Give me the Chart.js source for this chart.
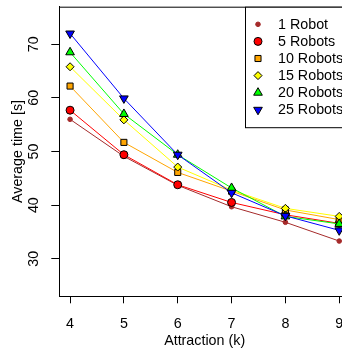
<!DOCTYPE html>
<html>
<head>
<meta charset="utf-8">
<script src="https://cdn.jsdelivr.net/npm/chart.js@4.4.1/dist/chart.umd.min.js"></script>
<style>
  html, body { margin: 0; padding: 0; background: #fff; overflow: hidden; }
  canvas { display: block; }
</style>
</head>
<body>
<canvas id="timeChart" width="356" height="351"></canvas>
<script>
// attraction values (x) and average completion times per swarm size
const kValues = [4, 5, 6, 7, 8, 9];
const robots1 = [56.0, 49.1, 43.7, 39.7, 36.8, 33.3];
const robots5 = [57.7, 49.4, 43.8, 40.5, 38.2, 36.6];
const robots10 = [62.2, 51.7, 46.1, 42.6, 39.1, 37.3];
const robots15 = [65.8, 55.9, 47.1, 42.8, 39.4, 37.9];
const robots20 = [68.5, 57.0, 49.4, 43.2, 37.9, 36.5];
const robots25 = [72.0, 59.9, 49.4, 42.3, 38.0, 35.3];
const xTicks = [4, 5, 6, 7, 8, 9];
const yTicks = [30, 40, 50, 60, 70];

const FONT = "'Liberation Sans', Arial, Helvetica, sans-serif";
const FSIZE = 14.3;

function series(label, values, color, style, radius, rotation, border) {
    return {
        label: label,
        data: kValues.map((k, i) => ({ x: k, y: values[i] })),
        borderColor: color,
        borderWidth: 1,
        pointStyle: style,
        pointRadius: radius,
        pointRotation: rotation,
        pointBackgroundColor: color,
        pointBorderColor: border,
        pointBorderWidth: 1,
        tension: 0
    };
}

const datasets = [
    series('1 Robot', robots1, '#A52A2A', 'circle', 2.3, 0, '#A52A2A'),
    series('5 Robots', robots5, '#FF0000', 'circle', 4, 0, '#000'),
    series('10 Robots', robots10, '#FFA500', 'rect', 4.3, 0, '#000'),
    series('15 Robots', robots15, '#FFFF00', 'rectRot', 4, 0, '#000'),
    series('20 Robots', robots20, '#00FF00', 'triangle', 5, 0, '#000'),
    series('25 Robots', robots25, '#0000FF', 'triangle', 5, 180, '#000')
];
// later series are painted on top
datasets.forEach((d, i) => { d.order = datasets.length - i; });

// plot frame (top/right) + rotated y tick labels + legend box
const framePlugin = {
    id: 'frame',
    afterDraw(chart) {
        const ctx = chart.ctx;
        const area = chart.chartArea;
        const yScale = chart.scales.y;
        ctx.save();
        ctx.strokeStyle = '#000';
        ctx.lineWidth = 1;
        ctx.beginPath();
        ctx.moveTo(area.left, area.top + 0.5);
        ctx.lineTo(area.right, area.top + 0.5);
        ctx.lineTo(area.right - 0.5, area.bottom);
        ctx.stroke();

        // y tick labels, vertical like base R
        ctx.fillStyle = '#000';
        ctx.font = FSIZE + 'px ' + FONT;
        ctx.textAlign = 'center';
        ctx.textBaseline = 'middle';
        yTicks.forEach(v => {
            ctx.save();
            ctx.translate(34.5, yScale.getPixelForValue(v));
            ctx.rotate(-Math.PI / 2);
            ctx.fillText(String(v), 0, 0);
            ctx.restore();
        });

        // legend
        const lx = 245.5, ly = area.top + 0.5, lh = 120.5;
        ctx.fillStyle = '#fff';
        ctx.fillRect(lx, ly, area.right - lx, lh);
        ctx.strokeRect(lx, ly, area.right - lx, lh);
        ctx.textAlign = 'left';
        datasets.forEach((d, i) => {
            const cy = 24.3 + i * 17.1;
            ctx.fillStyle = d.pointBackgroundColor;
            ctx.strokeStyle = d.pointBorderColor;
            ctx.lineWidth = 1;
            Chart.helpers.drawPoint(ctx, {
                pointStyle: d.pointStyle,
                radius: d.pointRadius,
                rotation: d.pointRotation,
                borderWidth: 1
            }, 258, cy);
            ctx.fillStyle = '#000';
            ctx.fillText(d.label, 278, cy + 0.5);
        });
        ctx.restore();
    }
};

new Chart(document.getElementById('timeChart'), {
    type: 'line',
    data: { datasets: datasets },
    options: {
        responsive: false,
        animation: false,
        devicePixelRatio: 1,
        layout: { padding: { left: 0, top: 6.7, right: 1.2, bottom: 0 } },
        plugins: { legend: { display: false }, tooltip: { enabled: false } },
        scales: {
            x: {
                type: 'linear',
                min: 3.8,
                max: 9.2,
                afterBuildTicks: s => { s.ticks = xTicks.map(v => ({ value: v })); },
                afterFit: s => { s.height = 54.7; s.paddingLeft = 0; s.paddingRight = 0; },
                grid: { drawOnChartArea: false, drawTicks: true, tickLength: 7, color: '#000' },
                border: { display: true, color: '#000', width: 1 },
                ticks: { color: '#000', padding: 12.5, maxRotation: 0, font: { family: FONT, size: FSIZE } },
                title: { display: true, text: 'Attraction (k)', color: '#000', padding: { top: 0, bottom: 1.4 }, font: { family: FONT, size: FSIZE } }
            },
            y: {
                type: 'linear',
                min: 23,
                max: 77,
                afterBuildTicks: s => { s.ticks = yTicks.map(v => ({ value: v })); },
                afterFit: s => { s.width = 59.3; s.paddingTop = 0; s.paddingBottom = 0; },
                grid: { drawOnChartArea: false, drawTicks: true, tickLength: 8, color: '#000' },
                border: { display: true, color: '#000', width: 1 },
                ticks: { display: false },
                title: { display: true, text: 'Average time [s]', color: '#000', padding: { top: 9, bottom: 0 }, font: { family: FONT, size: FSIZE } }
            }
        }
    },
    plugins: [framePlugin]
});
</script>
</body>
</html>
